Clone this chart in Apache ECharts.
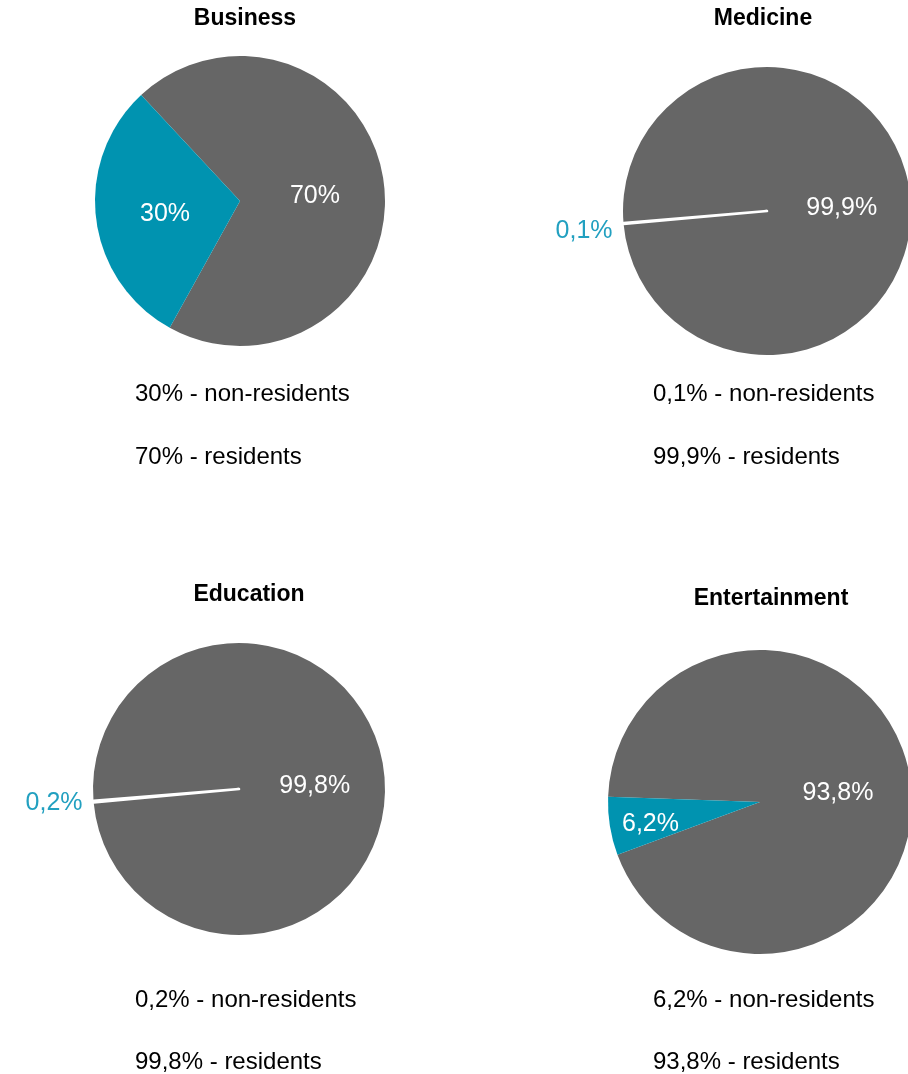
<!DOCTYPE html>
<html>
<head>
<meta charset="utf-8">
<script src="https://cdn.jsdelivr.net/npm/echarts@6/dist/echarts.min.js"></script>
<style>
html,body{margin:0;padding:0;background:#fff;}
#main{width:908px;height:1074px;}
</style>
</head>
<body>
<div id="main"></div>
<script>
// ---- data ----
const chartTitles = ['Business', 'Medicine', 'Education', 'Entertainment'];
const categories = ['non-residents', 'residents'];
const nonResidents = [30, 0.1, 0.2, 6.2];
const residents = [70, 99.9, 99.8, 93.8];

// ---- layout / style ----
const GRAY = '#666666';
const BLUE = '#0093b0';
const LABEL_BLUE = '#22a0c0';
const FONT = "'Liberation Sans', Arial, sans-serif";

const layouts = [
  { cx: 240, cy: 201, r: 145, start: 133,   mode: 'inside',  outPad: 0,  titleX: 245, titleY: 19,  textX: 135, textY1: 394,  textY2: 457 },
  { cx: 767, cy: 211, r: 144, start: 184.8, mode: 'outside', outPad: 16, titleX: 763, titleY: 19,  textX: 653, textY1: 394,  textY2: 457 },
  { cx: 239, cy: 789, r: 146, start: 184.6, mode: 'outside', outPad: 2,  titleX: 249, titleY: 595, textX: 135, textY1: 1000, textY2: 1062 },
  { cx: 760, cy: 802, r: 152, start: 178,   mode: 'far',     outPad: 0,  titleX: 771, titleY: 599, textX: 653, textY1: 1000, textY2: 1062 }
];

function fmt(v) { return String(v).replace('.', ',') + '%'; }

function richLabel(color, pad, extra) {
  return Object.assign({
    show: true,
    formatter: p => '{t|' + fmt(p.value) + '}',
    rich: { t: { color: color, fontSize: 25, fontFamily: FONT, padding: [pad, 0, 0, 0] } }
  }, extra);
}

const INSIDE_LABEL = richLabel('#ffffff', 8, { position: 'inside' });

const series = [];
const graphics = [];

layouts.forEach((L, i) => {
  const nonLabel =
    L.mode === 'inside' ? INSIDE_LABEL :
    L.mode === 'outside' ? richLabel(LABEL_BLUE, L.outPad, { position: 'outside', distanceToLabelLine: 11 }) :
    { show: false };
  series.push({
    type: 'pie',
    center: [L.cx, L.cy],
    radius: [0, L.r],
    startAngle: L.start,
    clockwise: true,
    avoidLabelOverlap: false,
    silent: true,
    animation: false,
    labelLine: { show: false, length: 0, length2: 0 },
    data: [
      { name: categories[1], value: residents[i], itemStyle: { color: GRAY, borderWidth: 0 }, label: INSIDE_LABEL },
      { name: categories[0], value: nonResidents[i],
        itemStyle: L.mode === 'outside' ? { color: '#ffffff', borderColor: '#ffffff', borderWidth: 2.6 } : { color: BLUE, borderWidth: 0 },
        label: nonLabel }
    ]
  });
  if (L.mode === 'far') {
    // transparent ring only used to place the narrow slice's label further out
    series.push({
      type: 'pie',
      center: [L.cx, L.cy],
      radius: [L.r * 0.42, L.r],
      startAngle: L.start,
      clockwise: true,
      avoidLabelOverlap: false,
      silent: true,
      animation: false,
      labelLine: { show: false },
      data: [
        { name: categories[1], value: residents[i], itemStyle: { color: 'rgba(0,0,0,0)' }, label: { show: false } },
        { name: categories[0], value: nonResidents[i], itemStyle: { color: 'rgba(0,0,0,0)' }, label: INSIDE_LABEL }
      ]
    });
  }
  graphics.push({
    type: 'text', x: L.titleX, y: L.titleY, silent: true,
    style: { text: chartTitles[i], fontSize: 23, fontWeight: 'bold', fontFamily: FONT, fill: '#000', align: 'center', verticalAlign: 'middle' }
  });
  graphics.push({
    type: 'text', x: L.textX, y: L.textY1, silent: true,
    style: { text: fmt(nonResidents[i]) + ' - ' + categories[0], fontSize: 24, fontFamily: FONT, fill: '#000', align: 'left', verticalAlign: 'middle' }
  });
  graphics.push({
    type: 'text', x: L.textX, y: L.textY2, silent: true,
    style: { text: fmt(residents[i]) + ' - ' + categories[1], fontSize: 24, fontFamily: FONT, fill: '#000', align: 'left', verticalAlign: 'middle' }
  });
});

const chart = echarts.init(document.getElementById('main'), null, { renderer: 'canvas' });
chart.setOption({
  backgroundColor: '#ffffff',
  animation: false,
  series: series,
  graphic: graphics
});
</script>
</body>
</html>
